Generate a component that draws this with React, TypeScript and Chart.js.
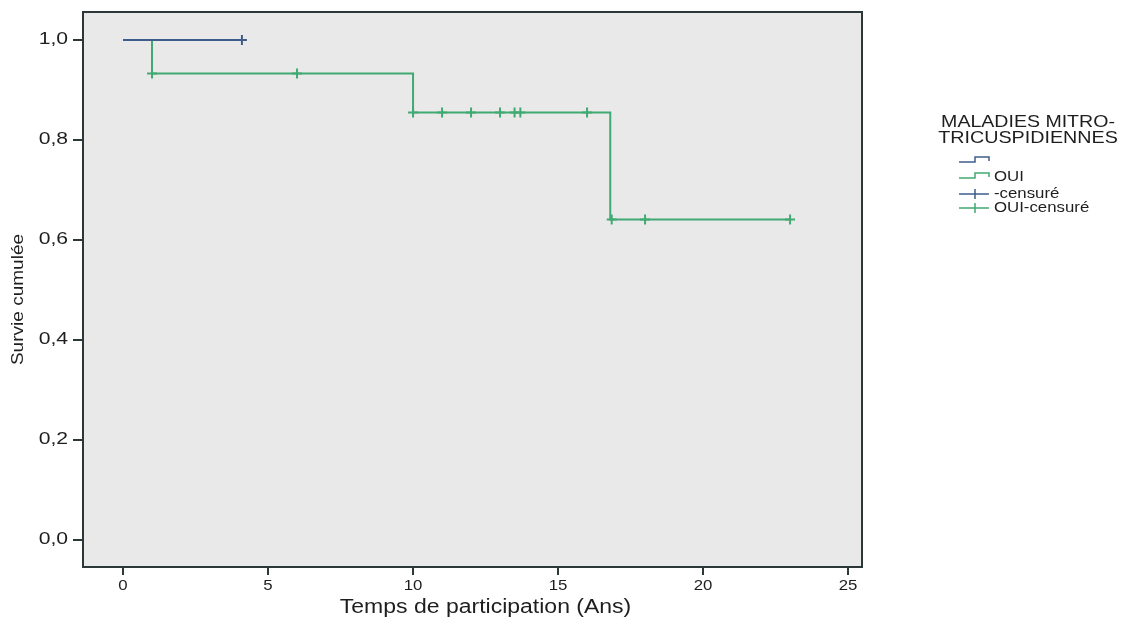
import React, { useEffect, useRef } from "react";
import { Chart, registerables } from "chart.js";

Chart.register(...registerables);

// ---- data ----
const groupLabels = ["", "OUI"];
const censorLabels = ["-censuré", "OUI-censuré"];
const legendTitle = ["MALADIES MITRO-", "TRICUSPIDIENNES"];
const xAxisTitle = "Temps de participation (Ans)";
const yAxisTitle = "Survie cumulée";

const blueTimes = [0, 4.1];
const blueSurv = [1.0, 1.0];
const blueCensorTimes = [4.1];
const blueCensorSurv = [1.0];

const greenTimes = [0, 1, 10, 16.8, 23];
const greenSurv = [1.0, 0.933, 0.855, 0.641, 0.641];
const greenCensorTimes = [1, 6, 10, 11, 12, 13, 13.5, 13.7, 16, 16.85, 18, 23];
const greenCensorSurv = [0.933, 0.933, 0.855, 0.855, 0.855, 0.855, 0.855, 0.855, 0.855, 0.641, 0.641, 0.641];

const xTicks = [0, 5, 10, 15, 20, 25];
const xTickLabels = ["0", "5", "10", "15", "20", "25"];
const yTicks = [0, 0.2, 0.4, 0.6, 0.8, 1.0];
const yTickLabels = ["0,0", "0,2", "0,4", "0,6", "0,8", "1,0"];

// ---- styles ----
const BLUE = "#3d5d8c";
const GREEN = "#41a972";
const PLOT_BG = "#e9e9e9";
const FRAME = "#2c3838";
const TEXT = "#1e1e1e";
const FONT = '"Liberation Sans", Arial, sans-serif';

function stretchText(
  ctx: CanvasRenderingContext2D,
  text: string,
  x: number,
  y: number,
  size: number,
  sx: number,
  align: CanvasTextAlign,
  rotate = 0
) {
  ctx.save();
  ctx.translate(x, y);
  if (rotate) ctx.rotate(rotate);
  ctx.scale(sx, 1);
  ctx.font = `${size}px ${FONT}`;
  ctx.fillStyle = TEXT;
  ctx.textAlign = align;
  ctx.textBaseline = "middle";
  ctx.fillText(text, 0, 0);
  ctx.restore();
}

const decorPlugin = {
  id: "decor",
  beforeDraw(chart: any) {
    const { ctx, chartArea: a } = chart;
    ctx.save();
    ctx.fillStyle = PLOT_BG;
    ctx.fillRect(a.left, a.top, a.right - a.left, a.bottom - a.top);
    ctx.restore();
  },
  afterDraw(chart: any) {
    const { ctx, chartArea: a } = chart;
    const xs = chart.scales.x;
    const ys = chart.scales.y;
    // frame
    ctx.save();
    ctx.strokeStyle = FRAME;
    ctx.lineWidth = 2;
    ctx.strokeRect(a.left, a.top, a.right - a.left, a.bottom - a.top);
    ctx.restore();

    // tick labels
    xTicks.forEach((v, i) => {
      stretchText(ctx, xTickLabels[i], xs.getPixelForValue(v), a.bottom + 19, 15, 1.12, "center");
    });
    yTicks.forEach((v, i) => {
      stretchText(ctx, yTickLabels[i], a.left - 15, ys.getPixelForValue(v), 16, 1.32, "right");
    });

    // axis titles
    const xc = (xs.getPixelForValue(xTicks[0]) + xs.getPixelForValue(xTicks[xTicks.length - 1])) / 2;
    stretchText(ctx, xAxisTitle, xc, a.bottom + 40, 20, 1.15, "center");
    stretchText(ctx, yAxisTitle, 18, (a.top + a.bottom) / 2 + 10, 17, 1.12, "center", -Math.PI / 2);

    // legend
    stretchText(ctx, legendTitle[0], 1028, 122, 17, 1.15, "center");
    stretchText(ctx, legendTitle[1], 1028, 138, 17, 1.16, "center");

    const rows = [
      { y: 161, color: BLUE, kind: "step", label: groupLabels[0] },
      { y: 177, color: GREEN, kind: "step", label: groupLabels[1] },
      { y: 194, color: BLUE, kind: "cross", label: censorLabels[0] },
      { y: 208, color: GREEN, kind: "cross", label: censorLabels[1] },
    ];
    rows.forEach((r) => {
      ctx.save();
      ctx.strokeStyle = r.color;
      ctx.lineWidth = 1.5;
      ctx.beginPath();
      if (r.kind === "step") {
        ctx.moveTo(959, r.y + 1);
        ctx.lineTo(975, r.y + 1);
        ctx.lineTo(975, r.y - 4);
        ctx.lineTo(989, r.y - 4);
        ctx.lineTo(989, r.y);
      } else {
        ctx.moveTo(959, r.y);
        ctx.lineTo(989, r.y);
        ctx.moveTo(975, r.y - 5);
        ctx.lineTo(975, r.y + 5);
      }
      ctx.stroke();
      ctx.restore();
      if (r.label) stretchText(ctx, r.label, 994, r.y, 14, 1.2, "left");
    });
  },
};

export default function App() {
  const ref = useRef<HTMLCanvasElement | null>(null);

  useEffect(() => {
    document.body.style.margin = "0";
    const canvas = ref.current!;
    const toPts = (xs: number[], ys: number[]) => xs.map((x, i) => ({ x, y: ys[i] }));
    const chart = new Chart(canvas, {
      type: "scatter",
      data: {
        datasets: [
          {
            label: groupLabels[0],
            data: toPts(blueTimes, blueSurv),
            showLine: true,
            stepped: true,
            borderColor: BLUE,
            borderWidth: 2,
            pointRadius: 0,
          } as any,
          {
            label: censorLabels[0],
            data: toPts(blueCensorTimes, blueCensorSurv),
            showLine: false,
            pointStyle: "cross",
            pointRadius: 5,
            borderColor: BLUE,
            borderWidth: 2,
          },
          {
            label: groupLabels[1],
            data: toPts(greenTimes, greenSurv),
            showLine: true,
            stepped: true,
            borderColor: GREEN,
            borderWidth: 2,
            pointRadius: 0,
          } as any,
          {
            label: censorLabels[1],
            data: toPts(greenCensorTimes, greenCensorSurv),
            showLine: false,
            pointStyle: "cross",
            pointRadius: 5,
            borderColor: GREEN,
            borderWidth: 2,
          },
        ],
      },
      options: {
        animation: false,
        responsive: false,
        maintainAspectRatio: false,
        layout: { padding: { top: 12, right: 260, left: 0, bottom: 0 } },
        plugins: { legend: { display: false }, tooltip: { enabled: false } },
        scales: {
          x: {
            type: "linear",
            min: -1.38,
            max: 25.48,
            afterBuildTicks: (s: any) => {
              s.ticks = xTicks.map((v) => ({ value: v }));
            },
            afterFit: (s: any) => {
              s.height = 58;
            },
            ticks: { display: false },
            border: { display: false },
            grid: { drawOnChartArea: false, drawTicks: true, tickLength: 8, color: FRAME, lineWidth: 2 },
          },
          y: {
            type: "linear",
            min: -0.054,
            max: 1.056,
            afterBuildTicks: (s: any) => {
              s.ticks = yTicks.map((v) => ({ value: v }));
            },
            afterFit: (s: any) => {
              s.width = 83;
            },
            ticks: { display: false },
            border: { display: false },
            grid: { drawOnChartArea: false, drawTicks: true, tickLength: 10, color: FRAME, lineWidth: 2 },
          },
        },
      },
      plugins: [decorPlugin],
    });
    return () => chart.destroy();
  }, []);

  return (
    <div style={{ width: 1122, height: 625, background: "#fff" }}>
      <canvas ref={ref} width={1122} height={625} style={{ display: "block" }} />
    </div>
  );
}
